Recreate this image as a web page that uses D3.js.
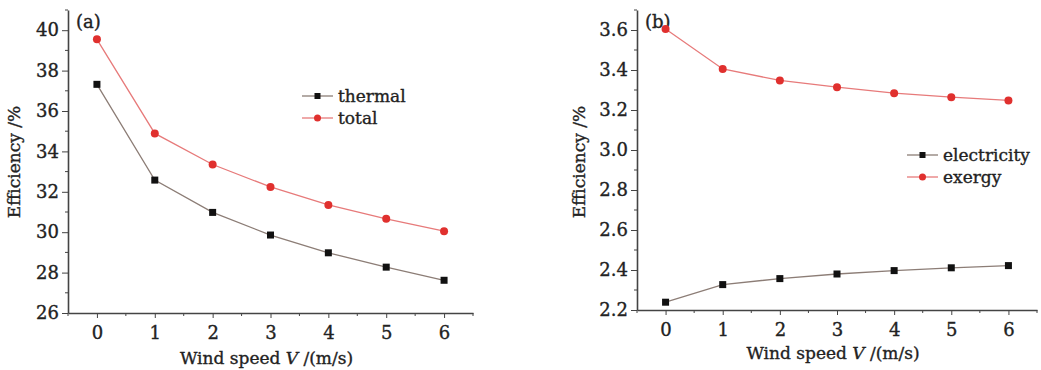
<!DOCTYPE html>
<meta charset="utf-8">
<style>
body { margin: 0; background: #fff; }
text { font-family: "DejaVu Serif", "Liberation Serif", serif; fill: #222; stroke: #222; stroke-width: 0.35px; }
.domain, .tick line { stroke: #444; }
</style>
<body>
  <div class="chart"></div>
</body>
<script src="https://cdn.jsdelivr.net/npm/d3@7"></script>
<script>

var windSpeed = [0, 1, 2, 3, 4, 5, 6];

var thermal = [37.32, 32.58, 30.98, 29.86, 28.98, 28.27, 27.62];
var total = [39.55, 34.89, 33.35, 32.24, 31.35, 30.66, 30.05];

var electricity = [2.239, 2.327, 2.357, 2.380, 2.397, 2.411, 2.422];
var exergy = [3.605, 3.405, 3.348, 3.314, 3.284, 3.264, 3.248];

var yTicksA = [26, 28, 30, 32, 34, 36, 38, 40];
var yTicksB = [2.2, 2.4, 2.6, 2.8, 3.0, 3.2, 3.4, 3.6];

var lineBlack = "#8c7d76", lineRed = "#e77a7a";
var dotRed = "#e0302e";

var svg = d3.select(".chart")
        .append("svg")
        .attr("width", 1041)
        .attr("height", 370);

function panel(opt) {
    var g = svg.append("g");

    var x = d3.scaleLinear().domain([-0.5, 6.5]).range([opt.left, opt.right]);
    var y = d3.scaleLinear().domain(opt.yDomain).range([opt.bottom, opt.top]);

    // minor ticks
    var xMinor = [-0.5, 0.5, 1.5, 2.5, 3.5, 4.5, 5.5, 6.5];
    g.selectAll(".xminor")
        .data(xMinor)
        .enter().append("line")
        .attr("x1", function(d) { return x(d); })
        .attr("x2", function(d) { return x(d); })
        .attr("y1", opt.bottom)
        .attr("y2", opt.bottom + 3)
        .attr("stroke", "#444");

    g.selectAll(".yminor")
        .data(opt.yMinor)
        .enter().append("line")
        .attr("x1", opt.left - 3)
        .attr("x2", opt.left)
        .attr("y1", function(d) { return y(d); })
        .attr("y2", function(d) { return y(d); })
        .attr("stroke", "#444");

    var xAxis = g.append("g")
        .attr("transform", "translate(0," + opt.bottom + ")")
        .call(d3.axisBottom(x).tickValues(windSpeed).tickFormat(d3.format("d"))
            .tickSize(5).tickSizeOuter(0).tickPadding(8));
    xAxis.selectAll("text").style("font-size", "18px").style("fill", "#222");
    xAxis.select(".domain").attr("stroke-width", 1.6);

    var yAxis = g.append("g")
        .attr("transform", "translate(" + opt.left + ",0)")
        .call(d3.axisLeft(y).tickValues(opt.yTicks).tickFormat(opt.fmt)
            .tickSize(6).tickSizeOuter(0).tickPadding(3));
    yAxis.selectAll("text").style("font-size", "18px").style("fill", "#222");
    yAxis.select(".domain").attr("stroke-width", 1.6);

    g.append("text")
        .attr("x", (opt.left + opt.right) / 2 - 4)
        .attr("y", opt.bottom + opt.titleY)
        .attr("text-anchor", "middle")
        .style("font-size", "17px")
        .html("Wind speed <tspan font-style='italic'>V</tspan> /(m/s)");

    g.append("text")
        .attr("transform", "translate(" + (opt.left - opt.titleOff) + "," + 162 + ") rotate(-90)")
        .attr("text-anchor", "middle")
        .style("font-size", "17px")
        .text("Efficiency /%");

    g.append("text")
        .attr("x", opt.left + 8)
        .attr("y", 28)
        .style("font-size", "18px")
        .text(opt.label);

    var line = d3.line()
        .x(function(d, i) { return x(windSpeed[i]); })
        .y(function(d) { return y(d); });

    g.append("path").datum(opt.black)
        .attr("d", line).attr("fill", "none")
        .attr("stroke", lineBlack).attr("stroke-width", 1.3);
    g.append("path").datum(opt.red)
        .attr("d", line).attr("fill", "none")
        .attr("stroke", lineRed).attr("stroke-width", 1.3);

    g.selectAll(".sq")
        .data(opt.black)
        .enter().append("rect")
        .attr("x", function(d, i) { return x(windSpeed[i]) - 3.5; })
        .attr("y", function(d) { return y(d) - 3.5; })
        .attr("width", 7).attr("height", 7)
        .attr("fill", "#111");

    g.selectAll(".dot")
        .data(opt.red)
        .enter().append("circle")
        .attr("cx", function(d, i) { return x(windSpeed[i]); })
        .attr("cy", function(d) { return y(d); })
        .attr("r", 4)
        .attr("fill", dotRed);

    // legend
    var leg = g.append("g").attr("transform", "translate(" + opt.legX + "," + opt.legY + ")");
    [[opt.names[0], lineBlack, "sq"], [opt.names[1], lineRed, "dot"]].forEach(function(item, i) {
        var row = leg.append("g").attr("transform", "translate(0," + (i * 22) + ")");
        row.append("line").attr("x1", 0).attr("x2", 31).attr("y1", 0).attr("y2", 0)
            .attr("stroke", item[1]).attr("stroke-width", 1.3);
        if (item[2] === "sq") {
            row.append("rect").attr("x", 12.5).attr("y", -3).attr("width", 6).attr("height", 6).attr("fill", "#111");
        } else {
            row.append("circle").attr("cx", 15.5).attr("cy", 0).attr("r", 3.5).attr("fill", dotRed);
        }
        row.append("text").attr("x", 36).attr("y", 6).style("font-size", "17px").text(item[0]);
    });
}

panel({
    left: 68, right: 473, top: 10, bottom: 313,
    yDomain: [26, 41], yTicks: yTicksA, yMinor: [27, 29, 31, 33, 35, 37, 39, 41],
    fmt: d3.format("d"), titleOff: 48, titleY: 51, label: "(a)",
    black: thermal, red: total, names: ["thermal", "total"],
    legX: 302, legY: 96
});

panel({
    left: 637, right: 1037, top: 10, bottom: 310,
    yDomain: [2.2, 3.7], yTicks: yTicksB, yMinor: [2.3, 2.5, 2.7, 2.9, 3.1, 3.3, 3.5, 3.7],
    fmt: d3.format(".1f"), titleOff: 52, titleY: 49, label: "(b)",
    black: electricity, red: exergy, names: ["electricity", "exergy"],
    legX: 907, legY: 155
});

</script>
